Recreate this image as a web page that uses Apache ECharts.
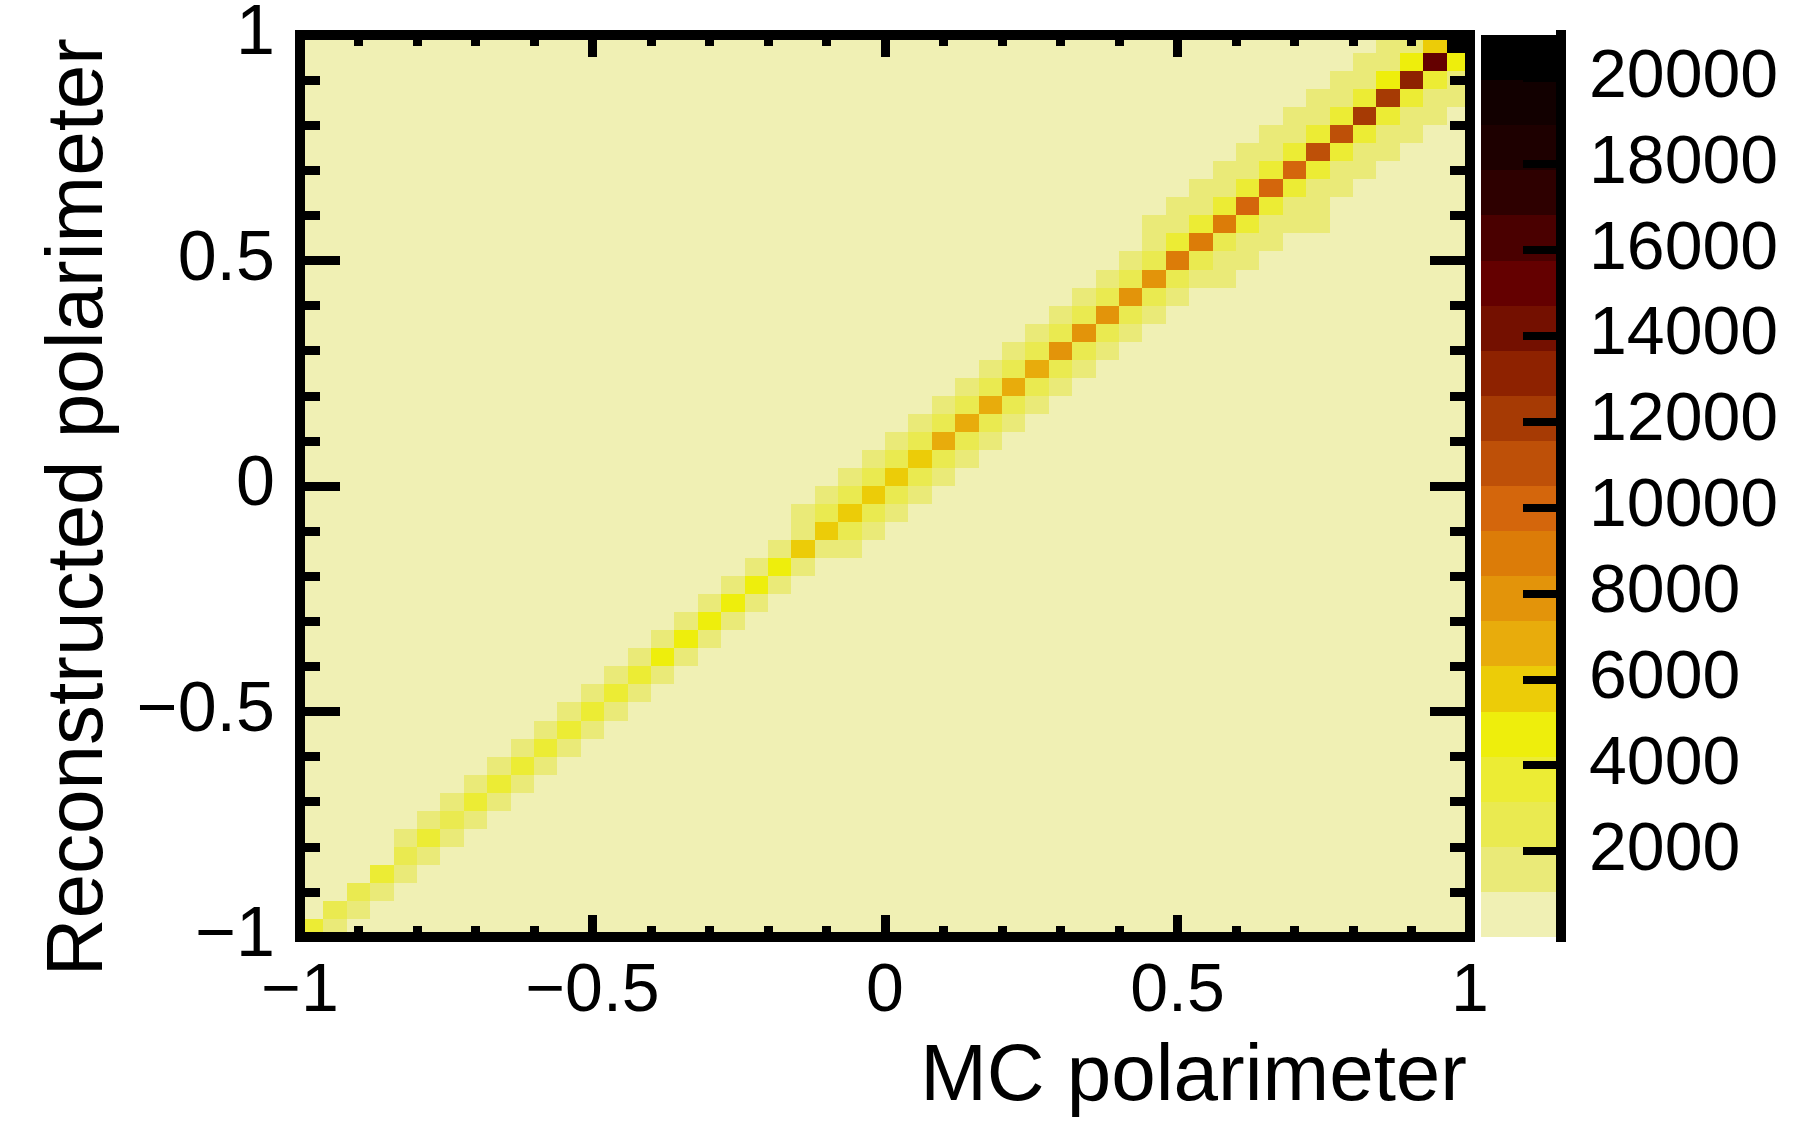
<!DOCTYPE html>
<html>
<head>
<meta charset="utf-8">
<script src="https://cdn.jsdelivr.net/npm/echarts@6/dist/echarts.min.js"></script>
<style>
html,body{margin:0;padding:0;background:#ffffff;}
#chart{width:1799px;height:1121px;}
</style>
</head>
<body>
<div id="chart"></div>
<script>
// ---- axes / binning ----
const X_MIN = -1, X_MAX = 1, N_BINS = 50;
const axisTickValues = [-1, -0.5, 0, 0.5, 1];
const zTickValues = [2000, 4000, 6000, 8000, 10000, 12000, 14000, 16000, 18000, 20000];
const Z_MAX = 21000;
const palette = ['#F0F0B4','#EAEA78','#EAEA50','#ECEC34','#EEEE0C','#ECCC08','#E8AC0C','#E3940A','#DC7C08','#D4660C',
                 '#BE5008','#A63A04','#8E2200','#741000','#640000','#4A0000','#2E0000','#1E0000','#120000','#000000'];

// ---- bin contents, indexed by MC-polarimeter bin (column) ----
// diagonal bin (row = column)
const diag = [3700,2600,2700,3300,2900,3300,2800,3400,3600,3700,
              3800,3700,3800,3900,3900,4600,4700,4700,4800,4800,
              4900,5600,5800,5900,5900,6000,6100,6800,6900,7000,
              7000,7100,7800,7900,8000,8100,8200,8800,8900,9100,
              9800,10000,10200,10900,11200,11900,12300,13100,15200,20900];
// one bin above the diagonal (row = column + 1)
const above1 = [null,null,null,null,1400,1500,1500,1600,1500,1600,
                1700,1600,1700,1700,1800,1700,1800,1900,1800,1900,
                1900,2000,2300,2400,2400,2500,2500,2600,2600,2700,
                2700,2800,2800,2900,2900,3000,3000,3500,3600,3600,
                3700,3700,3800,3800,3900,4000,4500,4800,5700,null];
// one bin below the diagonal (row = column - 1)
const below1 = [null,1300,1300,1400,1400,1500,1500,1500,1600,1600,
                1600,1700,1700,1700,1800,1800,1800,1900,1900,1900,
                2000,2000,2000,2200,2300,2300,2400,2400,2500,2500,
                2600,2600,2700,2700,2800,2800,2900,2900,3000,3000,
                3300,3400,3500,3600,3600,3700,3800,3900,4000,4800];
// two bins above (row = column + 2)
const above2 = [null,null,null,null,null,null,null,null,null,null,
                null,null,null,null,null,null,null,null,null,null,
                null,1100,1100,1200,1200,1200,1300,1300,1300,1300,
                1400,1400,1400,1400,1500,1500,1500,1500,1600,1600,
                1600,1700,1700,1700,1800,1800,1900,1900,null,null];
// two bins below (row = column - 2)
const below2 = [null,null,null,null,null,null,null,null,null,null,
                null,null,null,null,null,null,null,null,null,null,
                null,null,null,1100,1100,1200,1200,1200,1300,1300,
                1300,1400,1400,1400,1400,1500,1500,1500,1500,1600,
                1600,1600,1700,1700,1700,1800,1800,1900,1900,2000];
// three bins above (row = column + 3)
const above3 = [null,null,null,null,null,null,null,null,null,null,
                null,null,null,null,null,null,null,null,null,null,
                null,null,null,null,null,null,null,null,null,null,
                null,null,null,null,null,null,1100,1100,1200,1200,
                1300,1300,1400,1400,1500,1500,1600,null,null,null];
// three bins below (row = column - 3)
const below3 = [null,null,null,null,null,null,null,null,null,null,
                null,null,null,null,null,null,null,null,null,null,
                null,null,null,null,null,null,null,null,null,null,
                null,null,null,null,null,null,null,null,null,1100,
                1100,1200,1200,1300,1300,1400,1400,1500,1600,1600];
// four bins below (row = column - 4)
const below4 = [null,null,null,null,null,null,null,null,null,null,
                null,null,null,null,null,null,null,null,null,null,
                null,null,null,null,null,null,null,null,null,null,
                null,null,null,null,null,null,null,null,null,null,
                null,null,null,1100,null,null,null,null,null,null];

// ---- build cells ----
const BW = (X_MAX - X_MIN) / N_BINS;
const offsets = [[diag,0],[above1,1],[below1,-1],[above2,2],[below2,-2],[above3,3],[below3,-3],[below4,-4]];
const cells = [];
offsets.forEach(([arr, k]) => {
  arr.forEach((v, c) => {
    const r = c + k;
    if (v == null || r < 0 || r >= N_BINS) return;
    cells.push([X_MIN + (c + 0.5) * BW, X_MIN + (r + 0.5) * BW, v]);
  });
});

const step = Z_MAX / palette.length;
const pieces = palette.map((col, i) => (i === palette.length - 1)
  ? { gte: i * step, lte: Z_MAX * 10, color: col }
  : { gte: i * step, lt: (i + 1) * step, color: col });
const bandData = palette.map((col, i) => [i * step, (i + 1) * step, i]);

const FONT = '"Liberation Sans", Arial, Helvetica, sans-serif';
const fmt = v => (v < 0 ? '\u2212' + Math.abs(v) : String(v));

const frameLine = { show: true, onZero: false, lineStyle: { color: '#000', width: 10, cap: 'square' } };

const chart = echarts.init(document.getElementById('chart'), null, { renderer: 'canvas' });
chart.setOption({
  animation: false,
  backgroundColor: '#ffffff',
  grid: [
    { left: 300, top: 35, width: 1170, height: 902, show: true, backgroundColor: '#F0F0B4', borderWidth: 0 },
    { left: 1481, top: 35, width: 80, height: 902, show: false }
  ],
  visualMap: {
    type: 'piecewise', show: false, seriesIndex: 0, dimension: 2, pieces: pieces
  },
  xAxis: [
    { gridIndex: 0, type: 'value', min: -1, max: 1, interval: 0.5, position: 'bottom', z: 10,
      axisLine: frameLine,
      axisTick: { show: true, inside: true, length: 22, lineStyle: { color: '#000', width: 9 } },
      minorTick: { show: true, splitNumber: 5, length: 11, lineStyle: { color: '#000', width: 9 } },
      splitLine: { show: false }, minorSplitLine: { show: false },
      axisLabel: { show: true, margin: 21, color: '#000', fontSize: 68, fontFamily: FONT, formatter: fmt,
                   customValues: axisTickValues } },
    { gridIndex: 0, type: 'value', min: -1, max: 1, interval: 0.5, position: 'top', z: 10,
      axisLine: frameLine,
      axisTick: { show: true, inside: true, length: 22, lineStyle: { color: '#000', width: 9 } },
      minorTick: { show: true, splitNumber: 5, length: 11, lineStyle: { color: '#000', width: 9 } },
      splitLine: { show: false }, axisLabel: { show: false } },
    { gridIndex: 1, type: 'value', min: 0, max: 1, show: false }
  ],
  yAxis: [
    { gridIndex: 0, type: 'value', min: -1, max: 1, interval: 0.5, position: 'left', z: 10,
      axisLine: frameLine,
      axisTick: { show: true, inside: true, length: 40, lineStyle: { color: '#000', width: 9 } },
      minorTick: { show: true, splitNumber: 5, length: 20, lineStyle: { color: '#000', width: 9 } },
      splitLine: { show: false }, minorSplitLine: { show: false },
      axisLabel: { show: true, margin: 25, color: '#000', fontSize: 70, fontFamily: FONT, formatter: fmt,
                   padding: [12, 0, 0, 0], customValues: axisTickValues } },
    { gridIndex: 0, type: 'value', min: -1, max: 1, interval: 0.5, position: 'right', z: 10,
      axisLine: frameLine,
      axisTick: { show: true, inside: true, length: 40, lineStyle: { color: '#000', width: 9 } },
      minorTick: { show: true, splitNumber: 5, length: 20, lineStyle: { color: '#000', width: 9 } },
      splitLine: { show: false }, axisLabel: { show: false } },
    { gridIndex: 1, type: 'value', min: 0, max: Z_MAX, interval: 2000, position: 'right', z: 10,
      axisLine: { show: true, onZero: false, lineStyle: { color: '#000', width: 10, cap: 'square' } },
      axisTick: { show: true, inside: true, length: 38, lineStyle: { color: '#000', width: 8 }, customValues: zTickValues },
      splitLine: { show: false },
      axisLabel: { show: true, margin: 28, color: '#000', fontSize: 68, fontFamily: FONT,
                   padding: [12, 0, 0, 0], customValues: zTickValues, formatter: v => String(v) } }
  ],
  series: [
    {
      type: 'custom', name: 'counts', xAxisIndex: 0, yAxisIndex: 0, data: cells, z: 2,
      encode: { x: 0, y: 1 },
      renderItem: function (params, api) {
        const x = api.value(0), y = api.value(1);
        const p0 = api.coord([x - BW / 2, y + BW / 2]);
        const p1 = api.coord([x + BW / 2, y - BW / 2]);
        const x0 = Math.round(p0[0]), y0 = Math.round(p0[1]);
        const x1 = Math.round(p1[0]), y1 = Math.round(p1[1]);
        return { type: 'rect', shape: { x: x0, y: y0, width: x1 - x0, height: y1 - y0 },
                 style: { fill: api.visual('color') } };
      }
    },
    {
      type: 'custom', name: 'palette', xAxisIndex: 2, yAxisIndex: 2, data: bandData, z: 2,
      encode: { y: [0, 1] },
      renderItem: function (params, api) {
        const lo = api.value(0), hi = api.value(1), idx = api.value(2);
        const p0 = api.coord([0, hi]);
        const p1 = api.coord([1, lo]);
        const x0 = Math.round(p0[0]), y0 = Math.round(p0[1]);
        const x1 = Math.round(p1[0]), y1 = Math.round(p1[1]);
        return { type: 'rect', shape: { x: x0, y: y0, width: x1 - x0, height: y1 - y0 },
                 style: { fill: palette[idx] } };
      }
    }
  ],
  graphic: [
    { type: 'text', x: 1467, y: 1078, z: 20,
      style: { text: 'MC polarimeter', fill: '#000', font: '80px ' + FONT, align: 'right', verticalAlign: 'middle' } },
    { type: 'text', x: 80, y: 38, rotation: Math.PI / 2, z: 20,
      style: { text: 'Reconstructed polarimeter', fill: '#000', font: '80px ' + FONT, align: 'right', verticalAlign: 'middle' } }
  ]
});
</script>
</body>
</html>
